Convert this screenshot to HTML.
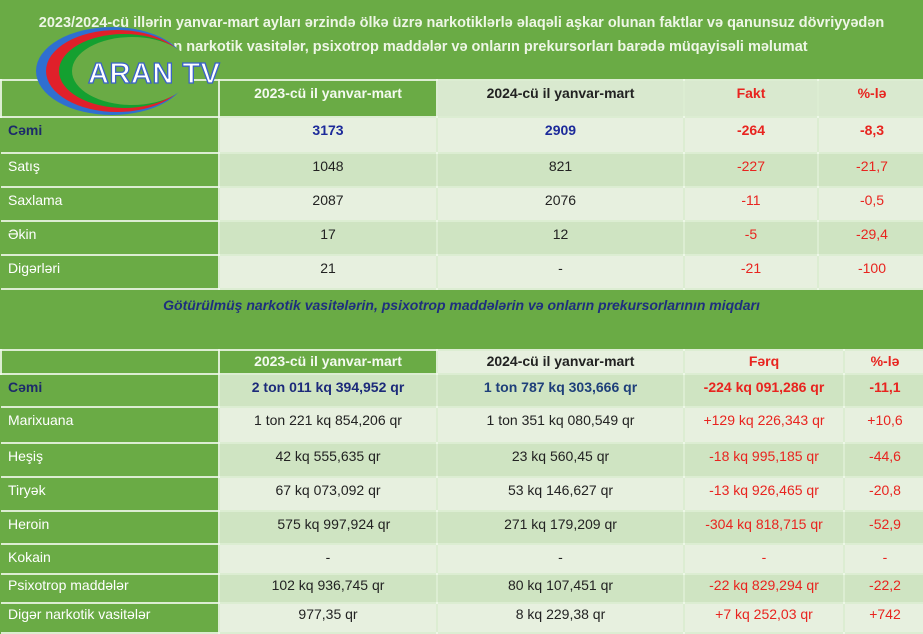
<!DOCTYPE html>
<html><head><meta charset="utf-8"><style>
*{margin:0;padding:0;box-sizing:border-box}
body{width:923px;height:630px;overflow:hidden;background:#6aab45;font-family:"Liberation Sans",Arial,sans-serif;position:relative}
.title{position:absolute;left:0;top:0;width:923px;text-align:center;color:#eef6e6;font-weight:bold;font-size:14.5px;line-height:24px;padding-top:11px}
table{position:absolute;left:0;border-collapse:collapse;table-layout:fixed}
td{border:2px solid rgba(240,248,235,0.85);font-size:14px;text-align:center;vertical-align:top;padding-top:4px;color:#222;white-space:nowrap;overflow:hidden}
tr td.g{background:#6aab45;color:#fff;text-align:left;padding-left:7px;border-left:none}
tr td.gh{background:#6aab45;color:#f4faf0;font-weight:bold}
.L td{background:#e7f0df}
.M td{background:#cfe4c2}
tr td.h{background:#d9e9cf;font-weight:bold}
.red{color:#e8241f!important}
.b{font-weight:bold}
.blue{color:#1c2a7a!important}
tr td.gb{background:#6aab45;color:#1c2a6a;font-weight:bold;text-align:left;padding-left:7px;border-left:none}
.sub{position:absolute;left:0;top:297px;width:923px;text-align:center;color:#1e2f7e;font-weight:bold;font-style:italic;font-size:14px}
</style></head><body>
<div class="title">2023/2024-cü illərin yanvar-mart ayları ərzində ölkə üzrə narkotiklərlə əlaqəli aşkar olunan faktlar və qanunsuz dövriyyədən<br>götürülən narkotik vasitələr, psixotrop maddələr və onların prekursorları barədə müqayisəli məlumat</div>

<table style="top:79px;width:925px">
<colgroup><col style="width:218px"><col style="width:218px"><col style="width:247px"><col style="width:134px"><col style="width:108px"></colgroup>
<tr style="height:37px"><td class="gh"></td><td class="gh">2023-cü il yanvar-mart</td><td class="h">2024-cü il yanvar-mart</td><td class="h red">Fakt</td><td class="h red">%-lə</td></tr>
<tr class="L" style="height:36px"><td class="gb">Cəmi</td><td class="b" style="color:#1c2a9a">3173</td><td class="b" style="color:#1c2a9a">2909</td><td class="red b">-264</td><td class="red b">-8,3</td></tr>
<tr class="M" style="height:34px"><td class="g">Satış</td><td>1048</td><td>821</td><td class="red">-227</td><td class="red">-21,7</td></tr>
<tr class="L" style="height:34px"><td class="g">Saxlama</td><td>2087</td><td>2076</td><td class="red">-11</td><td class="red">-0,5</td></tr>
<tr class="M" style="height:34px"><td class="g">Əkin</td><td>17</td><td>12</td><td class="red">-5</td><td class="red">-29,4</td></tr>
<tr class="L" style="height:34px"><td class="g">Digərləri</td><td>21</td><td>-</td><td class="red">-21</td><td class="red">-100</td></tr>
</table>

<div class="sub">Götürülmüş narkotik vasitələrin, psixotrop maddələrin və onların prekursorlarının miqdarı</div>

<table style="top:349px;width:925px">
<colgroup><col style="width:218px"><col style="width:218px"><col style="width:247px"><col style="width:160px"><col style="width:82px"></colgroup>
<tr style="height:24px"><td class="gh" style="padding-top:2px"></td><td class="gh" style="padding-top:2px">2023-cü il yanvar-mart</td><td class="h" style="padding-top:2px;background:#e7f0df">2024-cü il yanvar-mart</td><td class="h red" style="padding-top:2px;background:#e7f0df">Fərq</td><td class="h red" style="padding-top:2px;background:#e7f0df">%-lə</td></tr>
<tr class="M" style="height:33px"><td class="gb">Cəmi</td><td class="b blue">2 ton 011 kq 394,952 qr</td><td class="b" style="color:#1e3f7a">1 ton 787 kq 303,666 qr</td><td class="red b">-224 kq 091,286 qr</td><td class="red b">-11,1</td></tr>
<tr class="L" style="height:36px"><td class="g">Marixuana</td><td>1 ton 221 kq 854,206 qr</td><td>1 ton 351 kq 080,549 qr</td><td class="red">+129 kq 226,343 qr</td><td class="red">+10,6</td></tr>
<tr class="M" style="height:34px"><td class="g">Heşiş</td><td>42 kq 555,635 qr</td><td>23 kq 560,45 qr</td><td class="red">-18 kq 995,185 qr</td><td class="red">-44,6</td></tr>
<tr class="L" style="height:34px"><td class="g">Tiryək</td><td>67 kq 073,092 qr</td><td>53 kq 146,627 qr</td><td class="red">-13 kq 926,465 qr</td><td class="red">-20,8</td></tr>
<tr class="M" style="height:33px"><td class="g">Heroin</td><td>&nbsp;&nbsp;&nbsp;575 kq 997,924 qr</td><td>271 kq 179,209 qr</td><td class="red">-304 kq 818,715 qr</td><td class="red">-52,9</td></tr>
<tr class="L" style="height:30px"><td class="g">Kokain</td><td>-</td><td>-</td><td class="red">-</td><td class="red">-</td></tr>
<tr class="M" style="height:29px"><td class="g" style="padding-top:2px">Psixotrop maddələr</td><td style="padding-top:2px">102 kq 936,745 qr</td><td style="padding-top:2px">80 kq 107,451 qr</td><td class="red" style="padding-top:2px">-22 kq 829,294 qr</td><td class="red" style="padding-top:2px">-22,2</td></tr>
<tr class="L" style="height:30px"><td class="g" style="padding-top:2px">Digər narkotik vasitələr</td><td style="padding-top:2px">977,35 qr</td><td style="padding-top:2px">8 kq 229,38 qr</td><td class="red" style="padding-top:2px">+7 kq 252,03 qr</td><td class="red" style="padding-top:2px">+742</td></tr>
</table>

<svg style="position:absolute;left:0;top:0" width="240" height="130">
<ellipse cx="112" cy="71" rx="76" ry="44" fill="#2f6fd0"/>
<ellipse cx="117" cy="71" rx="71" ry="41" fill="#e0202a"/>
<ellipse cx="124" cy="71" rx="65" ry="37" fill="#14a030"/>
<ellipse cx="132" cy="71" rx="60" ry="34" fill="#6aab45"/>
<text x="88" y="83" font-family="Liberation Sans, sans-serif" font-size="29" font-weight="bold" fill="#fff" stroke="#3a62c8" stroke-width="1.3" letter-spacing="0.5">ARAN TV</text>
</svg>
</body></html>
